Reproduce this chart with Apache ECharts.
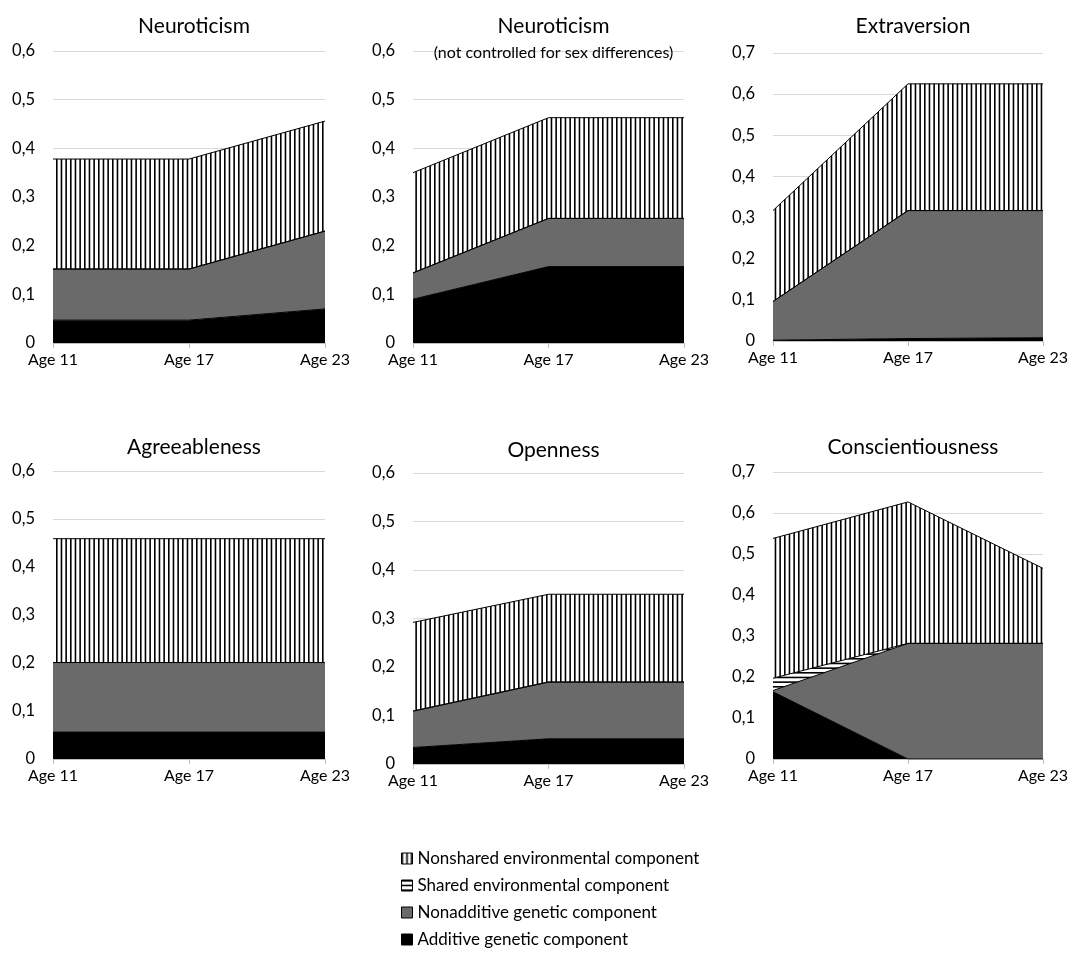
<!DOCTYPE html>
<html>
<head>
<meta charset="utf-8">
<script src="https://cdn.jsdelivr.net/npm/echarts@6/dist/echarts.min.js"></script>
<style>
  html, body { margin: 0; padding: 0; background: #fff; }
  #chart { width: 1074px; height: 970px; }
</style>
</head>
<body>
<div id="chart"></div>
<script>
// x categories, same for every panel
var ages = ['Age 11', 'Age 17', 'Age 23'];

// panel order: Neuroticism, Neuroticism (not controlled), Extraversion,
//              Agreeableness, Openness, Conscientiousness
var panelTitles = ['Neuroticism', 'Neuroticism', 'Extraversion', 'Agreeableness', 'Openness', 'Conscientiousness'];
var panelSubtitles = ['', '(not controlled for sex differences)', '', '', '', ''];
var yMax = [0.6, 0.6, 0.7, 0.6, 0.6, 0.7];

// variance components per panel (stacked from the bottom)
var additive = [
  [0.047, 0.047, 0.070],
  [0.090, 0.157, 0.157],
  [0.002, 0.006, 0.008],
  [0.056, 0.056, 0.056],
  [0.034, 0.052, 0.052],
  [0.164, 0.000, 0.000]
];
var nonadditive = [
  [0.105, 0.105, 0.160],
  [0.054, 0.099, 0.099],
  [0.094, 0.311, 0.309],
  [0.145, 0.145, 0.145],
  [0.075, 0.117, 0.117],
  [0.003, 0.282, 0.282]
];
var shared = [
  [0, 0, 0],
  [0, 0, 0],
  [0, 0, 0],
  [0, 0, 0],
  [0, 0, 0],
  [0.030, 0.000, 0.000]
];
var nonshared = [
  [0.226, 0.226, 0.226],
  [0.206, 0.207, 0.207],
  [0.221, 0.308, 0.308],
  [0.258, 0.258, 0.258],
  [0.183, 0.181, 0.181],
  [0.341, 0.345, 0.183]
];

var legendNames = [
  'Nonshared environmental component',
  'Shared environmental component',
  'Nonadditive genetic component',
  'Additive genetic component'
];

// plot boxes in px
var layout = [
  { left: 53,  top: 51,  width: 272, height: 292 },
  { left: 413, top: 51,  width: 271, height: 292 },
  { left: 773, top: 53,  width: 270, height: 288 },
  { left: 53,  top: 471, width: 272, height: 288 },
  { left: 413, top: 473, width: 271, height: 291 },
  { left: 773, top: 472, width: 270, height: 287 }
];
var titleTops = [11, 11, 11, 432, 435, 432];

var FONT = 'Lato';
var GREY = '#6a6a6a';
var INK = '#000';

// hatch fills
function stripes(vertical) {
  var c = document.createElement('canvas');
  c.width = 14; c.height = 14;
  var ctx = c.getContext('2d');
  ctx.fillStyle = '#fff';
  ctx.fillRect(0, 0, 14, 14);
  ctx.fillStyle = '#000';
  for (var k = 0; k < 3; k++) {
    var p = k * 14 / 3;
    if (vertical) ctx.fillRect(p, 0, 1.6, 14);
    else ctx.fillRect(0, p, 14, 1.6);
  }
  return c;
}
var vPattern = { image: stripes(true), repeat: 'repeat' };
var hPattern = { image: stripes(false), repeat: 'repeat' };

function fmt(v) {
  return v === 0 ? '0' : v.toFixed(1).replace('.', ',');
}

var grids = [], xAxes = [], yAxes = [], series = [], titles = [];

layout.forEach(function (box, i) {
  grids.push({ left: box.left, top: box.top, width: box.width, height: box.height, containLabel: false });
  xAxes.push({
    type: 'category', gridIndex: i, data: ages, boundaryGap: false,
    axisLine: { lineStyle: { color: '#bfbfbf', width: 1 } },
    axisTick: { show: true, length: 5, lineStyle: { color: '#bfbfbf' } },
    axisLabel: { color: INK, fontFamily: FONT, fontSize: 16, margin: 9 }
  });
  yAxes.push({
    type: 'value', gridIndex: i, min: 0, max: yMax[i], interval: 0.1,
    axisLine: { show: false }, axisTick: { show: false },
    splitLine: { lineStyle: { color: '#d9d9d9', width: 1 } },
    axisLabel: { color: INK, fontFamily: FONT, fontSize: 16.5, margin: 18, formatter: fmt }
  });
  titles.push({
    text: panelTitles[i],
    left: box.left + box.width / 2, top: titleTops[i], textAlign: 'center',
    textStyle: { fontFamily: FONT, fontSize: 21, fontWeight: 'normal', color: INK }
  });
  if (panelSubtitles[i]) {
    titles.push({
      text: panelSubtitles[i],
      left: box.left + box.width / 2, top: 40, textAlign: 'center',
      textStyle: { fontFamily: FONT, fontSize: 16, fontWeight: 'normal', color: INK,
        backgroundColor: '#fff', padding: [0, 2] }
    });
  }

  var parts = [
    { name: legendNames[3], data: additive[i], fill: '#000' },
    { name: legendNames[2], data: nonadditive[i], fill: GREY },
    { name: legendNames[1], data: shared[i], fill: hPattern },
    { name: legendNames[0], data: nonshared[i], fill: vPattern }
  ];
  parts.forEach(function (p) {
    series.push({
      type: 'line', name: p.name, xAxisIndex: i, yAxisIndex: i,
      stack: 'panel' + i, data: p.data,
      symbol: 'none', silent: true, animation: false,
      lineStyle: { color: '#000', width: 1 },
      itemStyle: { color: '#000' },
      areaStyle: { color: p.fill, opacity: 1 }
    });
  });
});

var legendFills = [vPattern, hPattern, GREY, '#000'];

var chart = echarts.init(document.getElementById('chart'), null, { renderer: 'canvas' });
chart.setOption({
  backgroundColor: '#fff',
  animation: false,
  title: titles,
  grid: grids,
  xAxis: xAxes,
  yAxis: yAxes,
  legend: {
    orient: 'vertical', left: 396, top: 845,
    itemWidth: 11, itemHeight: 11, itemGap: 10,
    selectedMode: false,
    textStyle: { fontFamily: FONT, fontSize: 17, color: INK, lineHeight: 16 },
    data: legendNames.map(function (n, k) {
      return { name: n, icon: 'rect', itemStyle: { color: legendFills[k], borderColor: '#000', borderWidth: 1 } };
    })
  },
  series: series
});
</script>
</body>
</html>
